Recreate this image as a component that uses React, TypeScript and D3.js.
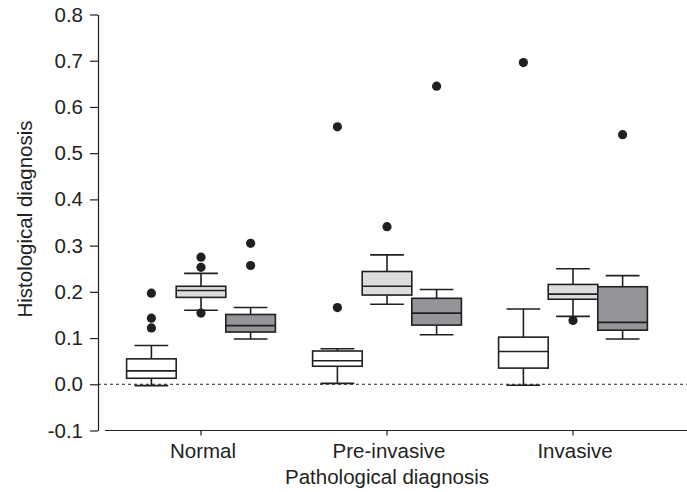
import React, { useEffect, useRef } from "react";
import * as d3 from "d3";

// categories on the x axis
const groups = ["Normal", "Pre-invasive", "Invasive"];
// three boxes per category, left to right
const seriesNames = ["white", "light", "dark"];
const seriesFills = ["#ffffff", "#dcdddf", "#939598"];

// [lower whisker, q1, median, q3, upper whisker] per category
const whiteStats = [
  [-0.003, 0.013, 0.029, 0.055, 0.084],
  [0.002, 0.039, 0.051, 0.072, 0.077],
  [-0.002, 0.035, 0.071, 0.102, 0.163],
];
const lightStats = [
  [0.16, 0.188, 0.203, 0.212, 0.24],
  [0.173, 0.193, 0.212, 0.244, 0.28],
  [0.147, 0.184, 0.195, 0.216, 0.25],
];
const darkStats = [
  [0.098, 0.113, 0.127, 0.151, 0.166],
  [0.107, 0.128, 0.154, 0.186, 0.205],
  [0.098, 0.117, 0.134, 0.211, 0.235],
];

// outlier dots per category
const whiteOutliers = [[0.197, 0.143, 0.122], [0.557, 0.166], [0.696]];
const lightOutliers = [[0.275, 0.253, 0.154], [0.341], [0.138]];
const darkOutliers = [[0.305, 0.257], [0.645], [0.54]];

const yTicks = [-1, 0, 1, 2, 3, 4, 5, 6, 7, 8].map((i) => i / 10);

const W = 687;
const H = 492;
const INK = "#231f20";
const FONT = "'Liberation Sans', Arial, sans-serif";
const FS = 20.5;

export default function App() {
  const ref = useRef<SVGSVGElement>(null);

  useEffect(() => {
    const svg = d3.select(ref.current);
    svg.selectAll("*").remove();

    const y = d3.scaleLinear().domain([-0.1, 0.8]).range([430.5, 14.5]);
    // box group positions (ticks sit on the middle box)
    const xGroup = d3.scaleBand<string>().domain(groups).range([108, 666]);
    const xSub = d3
      .scaleBand<string>()
      .domain(seriesNames)
      .range([-xGroup.bandwidth() * 0.4, xGroup.bandwidth() * 0.4]);

    const statsBySeries = [whiteStats, lightStats, darkStats];
    const outliersBySeries = [whiteOutliers, lightOutliers, darkOutliers];

    // zero reference line
    svg
      .append("line")
      .attr("x1", 98)
      .attr("x2", W)
      .attr("y1", y(0))
      .attr("y2", y(0))
      .attr("stroke", INK)
      .attr("stroke-width", 1)
      .attr("stroke-dasharray", "3,3");

    // y axis
    const yAxis = svg
      .append("g")
      .attr("transform", "translate(98,0)")
      .call(
        d3
          .axisLeft(y)
          .tickValues(yTicks)
          .tickFormat((d) => (d as number).toFixed(1))
          .tickSize(8)
          .tickSizeOuter(0)
          .tickPadding(7)
      );
    yAxis.selectAll("path, line").attr("stroke", INK).attr("stroke-width", 1.2);
    yAxis
      .selectAll("text")
      .attr("font-family", FONT)
      .attr("font-size", FS)
      .attr("fill", INK);

    // x axis (detached line)
    const xAxis = svg.append("g").attr("transform", `translate(0,${y(-0.1)})`);
    xAxis
      .append("line")
      .attr("x1", 105)
      .attr("x2", W)
      .attr("stroke", INK)
      .attr("stroke-width", 1.2);
    groups.forEach((g) => {
      const cx = xGroup(g)! + xGroup.bandwidth() / 2;
      xAxis
        .append("line")
        .attr("x1", cx)
        .attr("x2", cx)
        .attr("y1", 0)
        .attr("y2", 5)
        .attr("stroke", INK)
        .attr("stroke-width", 1.2);
      xAxis
        .append("text")
        .attr("x", cx + 2)
        .attr("y", 27)
        .attr("text-anchor", "middle")
        .attr("font-family", FONT)
        .attr("font-size", FS)
        .attr("fill", INK)
        .text(g);
    });

    // axis titles
    svg
      .append("text")
      .attr("x", xGroup("Pre-invasive")! + xGroup.bandwidth() / 2)
      .attr("y", 484)
      .attr("text-anchor", "middle")
      .attr("font-family", FONT)
      .attr("font-size", FS)
      .attr("fill", INK)
      .text("Pathological diagnosis");
    svg
      .append("text")
      .attr("transform", "translate(32,219) rotate(-90)")
      .attr("text-anchor", "middle")
      .attr("font-family", FONT)
      .attr("font-size", FS)
      .attr("fill", INK)
      .text("Histological diagnosis");

    // boxes
    const boxW = xSub.bandwidth();
    const capW = boxW * 0.68;
    seriesNames.forEach((s, si) => {
      groups.forEach((g, gi) => {
        const [lo, q1, med, q3, hi] = statsBySeries[si][gi];
        const cx = xGroup(g)! + xGroup.bandwidth() / 2 + xSub(s)! + boxW / 2;
        const box = svg.append("g").attr("stroke", INK).attr("stroke-width", 1.6);
        box.append("line").attr("x1", cx).attr("x2", cx).attr("y1", y(hi)).attr("y2", y(q3));
        box.append("line").attr("x1", cx).attr("x2", cx).attr("y1", y(q1)).attr("y2", y(lo));
        box
          .append("line")
          .attr("x1", cx - capW / 2)
          .attr("x2", cx + capW / 2)
          .attr("y1", y(hi))
          .attr("y2", y(hi));
        box
          .append("line")
          .attr("x1", cx - capW / 2)
          .attr("x2", cx + capW / 2)
          .attr("y1", y(lo))
          .attr("y2", y(lo));
        box
          .append("rect")
          .attr("x", cx - boxW / 2)
          .attr("y", y(q3))
          .attr("width", boxW)
          .attr("height", y(q1) - y(q3))
          .attr("fill", seriesFills[si]);
        box
          .append("line")
          .attr("x1", cx - boxW / 2)
          .attr("x2", cx + boxW / 2)
          .attr("y1", y(med))
          .attr("y2", y(med));

        outliersBySeries[si][gi].forEach((v) => {
          svg
            .append("circle")
            .attr("cx", cx)
            .attr("cy", y(v))
            .attr("r", 4.6)
            .attr("fill", INK);
        });
      });
    });
  }, []);

  return (
    <svg
      ref={ref}
      width={W}
      height={H}
      style={{ position: "absolute", left: 0, top: 0, background: "#fff" }}
    />
  );
}
